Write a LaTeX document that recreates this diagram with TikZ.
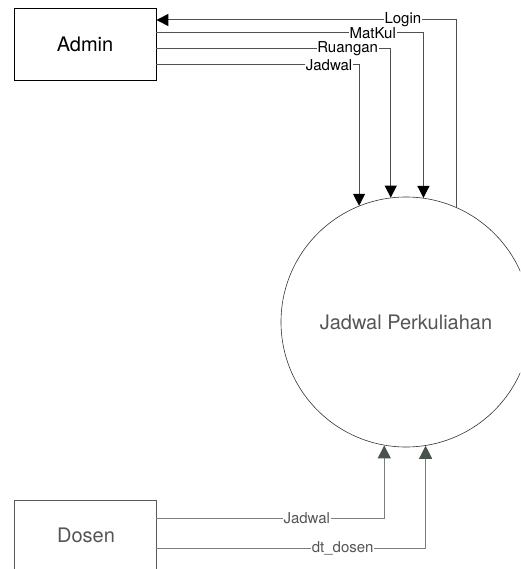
\documentclass[tikz,border=0pt]{standalone}
\usepackage{fontspec}
\setmainfont{TeX Gyre Heros}
\usetikzlibrary{arrows.meta}
\definecolor{topline}{HTML}{505050}
\definecolor{botline}{HTML}{7A7F7B}
\definecolor{bottip}{HTML}{4A524C}
\definecolor{gtext}{HTML}{555555}
\tikzset{
  entity/.style={draw=black, line width=0.8pt, minimum width=142pt, minimum height=72pt, inner sep=0pt, font=\fontsize{20}{22}\selectfont},
  proc/.style={circle, draw=black!80, line width=0.6pt, minimum size=250pt, inner sep=0pt, text=gtext, font=\fontsize{20}{22}\selectfont},
  lbl/.style={fill=white, inner sep=0.8pt, font=\fontsize{15}{16}\selectfont},
  flow/.style={draw=topline, line width=1pt, -{Triangle[length=12pt,width=12pt,color=black]}},
  bflow/.style={draw=botline, line width=1pt, -{Triangle[length=13pt,width=13pt,color=bottip]}, text=gtext},
}
\begin{document}
\begin{tikzpicture}[x=1pt,y=-1pt]
\useasboundingbox (0,0) rectangle (520,569);
\clip (0,0) rectangle (520,569);
\node[entity] (admin) at (85,44) {Admin};
\node[entity, draw=black!65, text=gtext, minimum height=100pt] (dosen) at (85,550) {};
\node[text=gtext, font=\fontsize{20}{22}\selectfont] (dosentxt) at (86,535) {Dosen};
\node[proc] (p) at (406,322) {Jadwal Perkuliahan};
% Admin flows
\draw[flow] (p.66.9) |- node[lbl,pos=0.59]{Login} (admin.east |- 0,20);
\draw[flow] (admin.east |- 0,33) -| node[lbl,pos=0.405]{MatKul} (p.82.2);
\draw[flow] (admin.east |- 0,49) -| node[lbl,pos=0.408]{Ruangan} (p.97.4);
\draw[flow] (admin.east |- 0,65) -| node[lbl,pos=0.426]{Jadwal} (p.112.6);
% Dosen flows
\draw[bflow] (dosen.east |- 0,518) -| node[lbl,pos=0.33]{Jadwal} (p.260.3);
\draw[bflow] (dosen.east |- 0,548) -| node[lbl,pos=0.346]{dt\_dosen} (p.279.2);
\end{tikzpicture}
\end{document}
